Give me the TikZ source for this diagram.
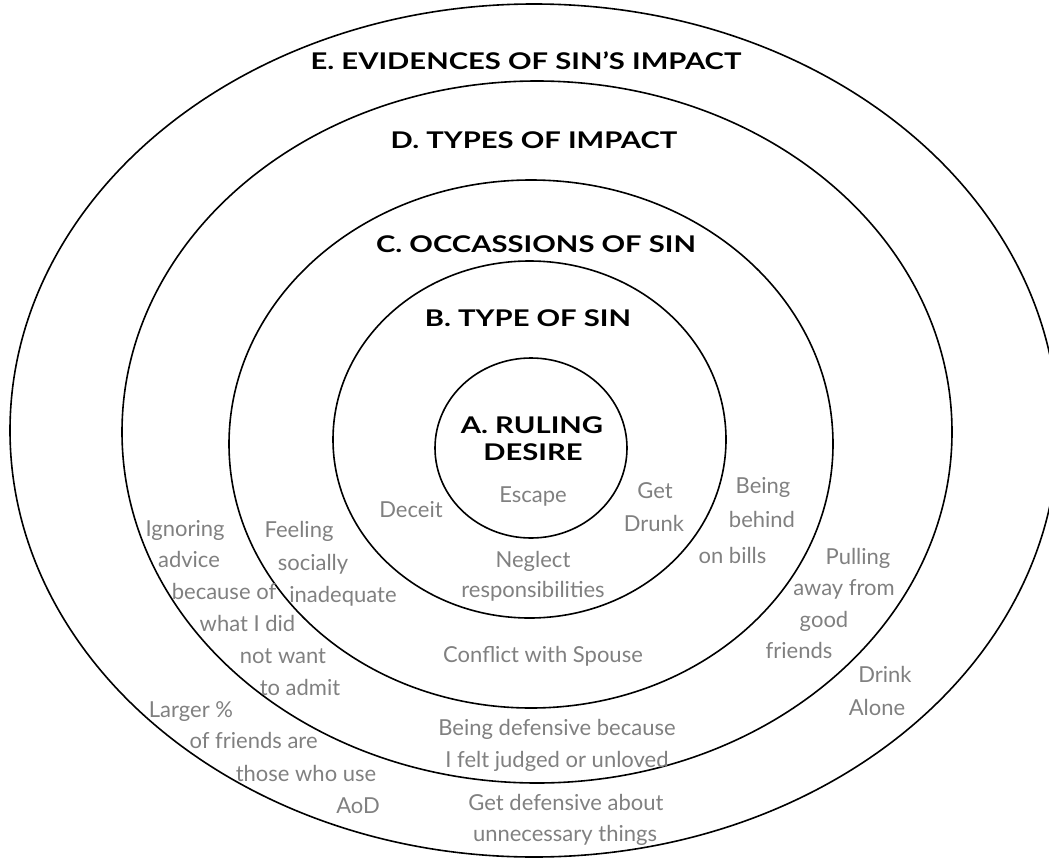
\documentclass[tikz,border=0pt]{standalone}
\usepackage{fontspec}
\setmainfont{Lato}
\newfontfamily\ttlfont{Lato}[FakeStretch=1.27]
\definecolor{txtgray}{RGB}{128,128,128}
\begin{document}
\begin{tikzpicture}[x=1pt,y=-1pt,
  ring/.style={draw=black,line width=1.6pt},
  ttl/.style={font=\ttlfont\fontsize{23}{28}\selectfont\bfseries,anchor=base,inner sep=0pt},
  itm/.style={font=\fontsize{22}{32}\selectfont,text=txtgray,anchor=base,inner sep=0pt}]
\useasboundingbox (0,0) rectangle (1049,859);
\clip (0,0) rectangle (1049,859);
% rings
\draw[ring] (534,430.5) ellipse [x radius=524, y radius=426.5];
\draw[ring] (537,432) ellipse [x radius=415, y radius=351];
\draw[ring] (531,444) ellipse [x radius=302, y radius=264];
\draw[ring] (529.5,439.5) ellipse [x radius=196.5, y radius=178.5];
\draw[ring] (531,448) ellipse [x radius=96, y radius=90];
% titles
\node[ttl] (tE) at (526,70) {E. EVIDENCES OF SIN’S IMPACT};
\node[ttl] (tD) at (534,148) {D. TYPES OF IMPACT};
\node[ttl] (tC) at (536,252) {C. OCCASSIONS OF SIN};
\node[ttl] (tB) at (528,326) {B. TYPE OF SIN};
\node[ttl] (tA1) at (532,433) {A. RULING};
\node[ttl] (tA2) at (533,460) {DESIRE};
% A
\node[itm] (escape) at (533,502) {Escape};
% B
\node[itm] (deceit) at (411,517) {Deceit};
\node[itm] (get1) at (655,498) {Get};
\node[itm] (get2) at (654,531) {Drunk};
\node[itm] (neg1) at (533,567) {Neglect};
\node[itm] (neg2) at (533,597) {responsibilities};
% C
\node[itm] (feel1) at (299,537) {Feeling};
\node[itm] (feel2) at (313,570) {socially};
\node[itm] (feel3) at (343,602) {inadequate};
\node[itm] (bill1) at (763,493) {Being};
\node[itm] (bill2) at (762,527) {behind};
\node[itm] (bill3) at (732.5,563) {on bills};
\node[itm] (conf) at (543,662) {Conflict with Spouse};
% D
\node[itm] (ign1) at (185,536) {Ignoring};
\node[itm] (ign2) at (189,567) {advice};
\node[itm] (ign3) at (224,599) {because of};
\node[itm] (ign4) at (247.5,631) {what I did};
\node[itm] (ign5) at (283,663) {not want};
\node[itm] (ign6) at (300,695) {to admit};
\node[itm] (pul1) at (858,564) {Pulling};
\node[itm] (pul2) at (844,595) {away from};
\node[itm] (pul3) at (824,627) {good};
\node[itm] (pul4) at (799,658) {friends};
\node[itm] (def1) at (557,735) {Being defensive because};
\node[itm] (def2) at (557,767) {I felt judged or unloved};
% E
\node[itm] (lar1) at (191,717) {Larger \%};
\node[itm] (lar2) at (253.6,748) {of friends are};
\node[itm] (lar3) at (306,781) {those who use};
\node[itm] (lar4) at (358,813) {AoD};
\node[itm] (dr1) at (885,682) {Drink};
\node[itm] (dr2) at (877,715) {Alone};
\node[itm] (gd1) at (566,810) {Get defensive about};
\node[itm] (gd2) at (565,841) {unnecessary things};
\end{tikzpicture}
\end{document}
